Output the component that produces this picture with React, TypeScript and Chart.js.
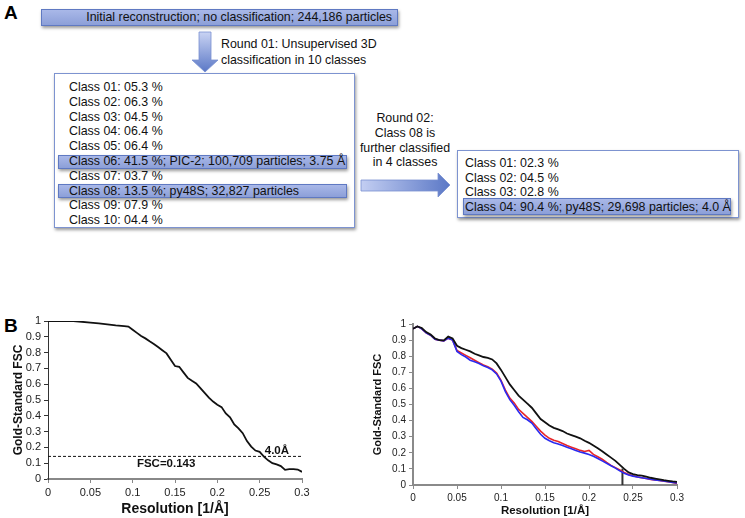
import React, { useEffect, useRef } from "react";
import { Chart, registerables } from "chart.js";

Chart.register(...registerables);
Chart.defaults.font.family = '"Liberation Sans", Arial, Helvetica, sans-serif';

// ---------------- Panel A text ----------------
const topBoxText = "Initial reconstruction; no classification; 244,186 particles";
const round1Text = ["Round 01: Unsupervised 3D", "classification in 10 classes"];
const round1Classes = [
  "Class 01: 05.3 %",
  "Class 02: 06.3 %",
  "Class 03: 04.5 %",
  "Class 04: 06.4 %",
  "Class 05: 06.4 %",
  "Class 06: 41.5 %; PIC-2; 100,709 particles; 3.75 Å",
  "Class 07: 03.7 %",
  "Class 08: 13.5 %; py48S; 32,827 particles",
  "Class 09: 07.9 %",
  "Class 10: 04.4 %",
];
const round1Highlighted = [5, 7];
const round2Text = ["Round 02:", "Class 08 is", "further classified", "in 4 classes"];
const round2Classes = [
  "Class 01: 02.3 %",
  "Class 02: 04.5 %",
  "Class 03: 02.8 %",
  "Class 04: 90.4 %; py48S; 29,698 particles; 4.0 Å",
];
const round2Highlighted = [3];

// ---------------- Panel B data ----------------
const xTitle = "Resolution [1/Å]";
const yTitle = "Gold-Standard FSC";

const leftRes = [
  0, 0.01, 0.02, 0.03, 0.04, 0.05, 0.06, 0.07, 0.08, 0.09, 0.095, 0.1, 0.105, 0.11, 0.115, 0.12,
  0.125, 0.13, 0.135, 0.14, 0.145, 0.15, 0.155, 0.16, 0.165, 0.17, 0.175, 0.18, 0.185, 0.19,
  0.195, 0.2, 0.205, 0.21, 0.215, 0.22, 0.225, 0.23, 0.235, 0.24, 0.245, 0.25, 0.255, 0.26,
  0.265, 0.27, 0.275, 0.28, 0.285, 0.29, 0.295, 0.3,
];
const leftFsc = [
  1.0, 1.0, 1.0, 1.0, 0.995, 0.99, 0.985, 0.978, 0.972, 0.968, 0.965, 0.945, 0.925, 0.905, 0.89,
  0.872, 0.855, 0.835, 0.815, 0.795, 0.755, 0.715, 0.71, 0.675, 0.64, 0.622, 0.605, 0.575, 0.545,
  0.515, 0.49, 0.47, 0.455, 0.415, 0.39, 0.345, 0.32, 0.29, 0.24, 0.205, 0.18, 0.172, 0.142, 0.118,
  0.1, 0.092, 0.082, 0.058, 0.062, 0.062, 0.06, 0.045,
];
const thresholdFsc = 0.143;
const thresholdX = [0, 0.3];
const resLabel = "4.0Å";
const resLabelPos = [0.256, 0.18];
const fscLabel = "FSC=0.143";
const fscLabelPos = [0.105, 0.095];

const rightRes = [
  0, 0.005, 0.01, 0.015, 0.02, 0.025, 0.03, 0.035, 0.04, 0.045, 0.05, 0.055, 0.06, 0.065, 0.07,
  0.075, 0.08, 0.085, 0.09, 0.095, 0.1, 0.105, 0.11, 0.115, 0.12, 0.125, 0.13, 0.135, 0.14, 0.145,
  0.15, 0.155, 0.16, 0.165, 0.17, 0.175, 0.18, 0.185, 0.19, 0.195, 0.2, 0.205, 0.21, 0.215, 0.22,
  0.225, 0.23, 0.235, 0.24, 0.245, 0.25, 0.255, 0.26, 0.265, 0.27, 0.275, 0.28, 0.285, 0.29, 0.295,
  0.3,
];
const rightBlack = [
  0.97, 0.985, 0.975, 0.95, 0.935, 0.91, 0.9, 0.898, 0.922, 0.91, 0.865, 0.85, 0.84, 0.83, 0.815,
  0.805, 0.795, 0.79, 0.78, 0.755, 0.715, 0.67, 0.625, 0.59, 0.555, 0.53, 0.505, 0.48, 0.445, 0.41,
  0.39, 0.37, 0.355, 0.345, 0.335, 0.32, 0.31, 0.3, 0.29, 0.275, 0.262, 0.245, 0.228, 0.21, 0.19,
  0.17, 0.15, 0.125, 0.1, 0.078, 0.068, 0.062, 0.058, 0.052, 0.045, 0.04, 0.035, 0.03, 0.026, 0.022,
  0.02,
];
const rightBlue = [
  0.97, 0.985, 0.97, 0.945, 0.93, 0.905, 0.9, 0.895, 0.912, 0.9, 0.83, 0.81, 0.795, 0.775, 0.765,
  0.755, 0.74, 0.73, 0.715, 0.69, 0.645, 0.58, 0.53, 0.495, 0.455, 0.42, 0.405, 0.385, 0.35, 0.315,
  0.29, 0.275, 0.262, 0.255, 0.245, 0.235, 0.225, 0.215, 0.205, 0.198, 0.19, 0.178, 0.165, 0.15,
  0.135, 0.12, 0.105, 0.088, 0.073, 0.062, 0.055, 0.05, 0.045, 0.04, 0.036, 0.032, 0.028, 0.025,
  0.02, 0.016, 0.012,
];
const rightRed = [
  0.97, 0.985, 0.97, 0.945, 0.93, 0.905, 0.9, 0.895, 0.912, 0.9, 0.835, 0.82, 0.805, 0.79, 0.775,
  0.76, 0.745, 0.735, 0.72, 0.695, 0.65, 0.59, 0.54, 0.51, 0.47, 0.445, 0.42, 0.395, 0.365, 0.335,
  0.31, 0.29, 0.278, 0.27, 0.258, 0.245, 0.235, 0.225, 0.215, 0.208, 0.215, 0.19, 0.175, 0.16, 0.14,
  0.122, 0.108, 0.093, 0.078, 0.065, 0.057, 0.05, 0.045, 0.04, 0.035, 0.031, 0.028, 0.024, 0.02,
  0.015, 0.01,
];
const cutoffX = [0.238, 0.238];
const cutoffY = [0, 0.102];

const fmt = (v: number) => String(parseFloat(Number(v).toFixed(3)));

function pts(xs: number[], ys: number[]) {
  return xs.map((x, i) => ({ x, y: ys[i] }));
}

function axes(o: any) {
  return {
    x: {
      type: "linear",
      min: 0,
      max: 0.3,
      afterFit: (s: any) => {
        s.height = o.xHeight;
      },
      ticks: {
        stepSize: 0.05,
        autoSkip: false,
        color: "#222",
        padding: 3,
        font: { size: o.tickSize },
        callback: (v: number) => fmt(v),
      },
      grid: {
        drawOnChartArea: false,
        tickLength: 4,
        tickColor: o.xColor,
        tickWidth: 1,
      },
      border: { display: true, color: o.xColor, width: o.xBorder },
      title: {
        display: true,
        text: xTitle,
        color: "#111",
        font: { size: o.xTitleSize, weight: "bold" },
        padding: { top: 0, bottom: 0 },
      },
    },
    y: {
      type: "linear",
      min: 0,
      max: 1,
      afterFit: (s: any) => {
        s.width = o.yWidth;
      },
      ticks: {
        stepSize: 0.1,
        autoSkip: false,
        color: "#222",
        padding: 3,
        font: { size: o.tickSize },
        callback: (v: number) => fmt(v),
      },
      grid: {
        drawOnChartArea: false,
        tickLength: 4,
        tickColor: o.yColor,
        tickWidth: 1,
      },
      border: { display: true, color: o.yColor, width: o.yBorder },
      title: {
        display: true,
        text: yTitle,
        color: "#111",
        font: { size: o.yTitleSize, weight: "bold" },
        padding: { top: o.yTitlePad, bottom: 0 },
      },
    },
  };
}

const leftLabelsPlugin = {
  id: "leftLabels",
  afterDatasetsDraw(chart: any) {
    const { ctx, scales } = chart;
    ctx.save();
    ctx.fillStyle = "#111";
    ctx.font = 'bold 11.5px "Liberation Sans", Arial, sans-serif';
    ctx.textBaseline = "middle";
    ctx.textAlign = "left";
    ctx.fillText(resLabel, scales.x.getPixelForValue(resLabelPos[0]), scales.y.getPixelForValue(resLabelPos[1]));
    ctx.fillText(fscLabel, scales.x.getPixelForValue(fscLabelPos[0]), scales.y.getPixelForValue(fscLabelPos[1]));
    ctx.restore();
  },
};

function leftConfig(): any {
  return {
    type: "line",
    data: {
      datasets: [
        { data: pts(leftRes, leftFsc), borderColor: "#111", borderWidth: 1.8, pointRadius: 0, tension: 0 },
        {
          data: pts(thresholdX, thresholdX.map(() => thresholdFsc)),
          borderColor: "#111",
          borderWidth: 1,
          borderDash: [3, 2],
          pointRadius: 0,
        },
      ],
    },
    options: {
      animation: false,
      responsive: false,
      devicePixelRatio: 1,
      layout: { padding: { top: 21, right: 18, left: 0, bottom: 0 } },
      plugins: { legend: { display: false }, tooltip: { enabled: false } },
      scales: axes({
        xHeight: 39,
        yWidth: 48,
        tickSize: 11,
        xTitleSize: 14,
        yTitleSize: 12,
        yTitlePad: 11,
        xColor: "#888",
        xBorder: 2,
        yColor: "#333",
        yBorder: 1,
      }),
    },
    plugins: [leftLabelsPlugin],
  };
}

function rightConfig(): any {
  return {
    type: "line",
    data: {
      datasets: [
        { data: pts(rightRes, rightBlack), borderColor: "#111", borderWidth: 1.8, pointRadius: 0, tension: 0 },
        { data: pts(rightRes, rightBlue), borderColor: "#2a2af0", borderWidth: 1.6, pointRadius: 0, tension: 0 },
        { data: pts(rightRes, rightRed), borderColor: "#e8262a", borderWidth: 1.6, pointRadius: 0, tension: 0 },
        { data: pts(cutoffX, cutoffY), borderColor: "#333", borderWidth: 2, pointRadius: 0 },
      ],
    },
    options: {
      animation: false,
      responsive: false,
      devicePixelRatio: 1,
      layout: { padding: { top: 24, right: 23, left: 0, bottom: 0 } },
      plugins: { legend: { display: false }, tooltip: { enabled: false } },
      scales: axes({
        xHeight: 33,
        yWidth: 43,
        tickSize: 10,
        xTitleSize: 11.5,
        yTitleSize: 11,
        yTitlePad: 1.5,
        xColor: "#8a8a8a",
        xBorder: 2,
        yColor: "#8a8a8a",
        yBorder: 2,
      }),
    },
  };
}

function ChartCanvas({ config, left, top, width, height }: any) {
  const ref = useRef<HTMLCanvasElement>(null);
  useEffect(() => {
    const c = new Chart(ref.current as HTMLCanvasElement, config());
    return () => c.destroy();
  }, []);
  return (
    <canvas
      ref={ref}
      width={width}
      height={height}
      style={{ position: "absolute", left, top, width, height }}
    />
  );
}

const boxFill = "linear-gradient(#a9b8e8, #8c9fd8)";
const boxBorder = "1px solid #5f79c2";
const shadow = "1px 2px 3px rgba(0,0,0,0.4)";
const font = '"Liberation Sans", Arial, Helvetica, sans-serif';

function Line({ text, left, cy, size = 12.4 }: any) {
  return (
    <div
      style={{
        position: "absolute",
        left,
        top: cy - 8,
        height: 16,
        lineHeight: "16px",
        fontSize: size,
        whiteSpace: "nowrap",
        color: "#111",
      }}
    >
      {text}
    </div>
  );
}

function Bar({ left, top, width, height }: any) {
  return (
    <div
      style={{
        position: "absolute",
        left,
        top,
        width,
        height,
        background: boxFill,
        border: boxBorder,
        boxShadow: shadow,
        boxSizing: "border-box",
      }}
    />
  );
}

export default function App() {
  return (
    <div
      style={{
        position: "absolute",
        left: 0,
        top: 0,
        width: 745,
        height: 518,
        background: "#fff",
        fontFamily: font,
        overflow: "hidden",
      }}
    >
      {/* Panel labels */}
      <div style={{ position: "absolute", left: 4, top: 3, fontSize: 19, lineHeight: "19px", fontWeight: "bold" }}>A</div>
      <div style={{ position: "absolute", left: 4, top: 316, fontSize: 19, lineHeight: "19px", fontWeight: "bold" }}>B</div>

      {/* Top box */}
      <div
        style={{
          position: "absolute",
          left: 41,
          top: 9,
          width: 357,
          height: 17,
          background: boxFill,
          border: boxBorder,
          boxShadow: shadow,
          boxSizing: "border-box",
          textAlign: "right",
          paddingRight: 5,
          fontSize: 12.4,
          lineHeight: "15px",
          color: "#111",
          whiteSpace: "nowrap",
        }}
      >
        {topBoxText}
      </div>

      {/* Down arrow */}
      <svg style={{ position: "absolute", left: 189, top: 31 }} width={32} height={44}>
        <defs>
          <linearGradient id="gd" x1="0" y1="0" x2="0" y2="1">
            <stop offset="0" stopColor="#c9d3f3" />
            <stop offset="1" stopColor="#5b78c6" />
          </linearGradient>
        </defs>
        <polygon points="10,1 22,1 22,29 29,29 16,41 3,29 10,29" fill="url(#gd)" stroke="#7890d0" strokeWidth={0.8} />
      </svg>
      {round1Text.map((t, i) => (
        <Line key={t} text={t} left={221} cy={44 + i * 16} />
      ))}

      {/* Round 01 box */}
      <div
        style={{
          position: "absolute",
          left: 54,
          top: 73,
          width: 301,
          height: 155,
          border: "1.5px solid #7d93d0",
          boxShadow: shadow,
          boxSizing: "border-box",
          background: "#fff",
        }}
      />
      {round1Highlighted.map((i) => (
        <Bar key={i} left={58} top={80 + i * 14.8 + 0.5} width={289} height={14} />
      ))}
      {round1Classes.map((t, i) => (
        <Line key={t} text={t} left={69} cy={87 + i * 14.8} />
      ))}

      {/* Round 02 text */}
      <div
        style={{
          position: "absolute",
          left: 345,
          top: 111,
          width: 120,
          textAlign: "center",
          fontSize: 12.4,
          lineHeight: "14.8px",
          color: "#111",
          whiteSpace: "nowrap",
        }}
      >
        {round2Text.map((t) => (
          <div key={t}>{t}</div>
        ))}
      </div>

      {/* Right arrow */}
      <svg style={{ position: "absolute", left: 360, top: 172 }} width={92} height={27}>
        <defs>
          <linearGradient id="gr" x1="0" y1="0" x2="1" y2="0">
            <stop offset="0" stopColor="#c3cef2" />
            <stop offset="1" stopColor="#5b78c6" />
          </linearGradient>
        </defs>
        <polygon points="1,8 78,8 78,1 90,13 78,25 78,19 1,19" fill="url(#gr)" stroke="#7890d0" strokeWidth={0.8} />
      </svg>

      {/* Round 02 box */}
      <div
        style={{
          position: "absolute",
          left: 457,
          top: 150,
          width: 282,
          height: 68,
          border: "1.5px solid #7d93d0",
          boxShadow: shadow,
          boxSizing: "border-box",
          background: "#fff",
        }}
      />
      {round2Highlighted.map((i) => (
        <Bar key={i} left={463} top={198} width={268} height={17} />
      ))}
      {round2Classes.map((t, i) => (
        <Line key={t} text={t} left={465} cy={163 + i * 14.7} />
      ))}

      {/* Panel B charts */}
      <ChartCanvas config={leftConfig} left={0} top={300} width={320} height={218} />
      <ChartCanvas config={rightConfig} left={370} top={300} width={330} height={218} />
    </div>
  );
}
